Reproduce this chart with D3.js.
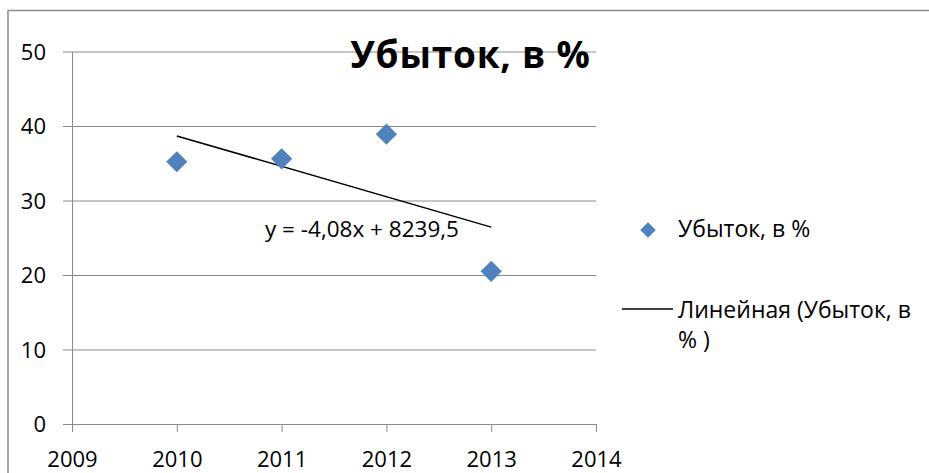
<!DOCTYPE html>
<html>
<head>
<meta charset="utf-8">
<script src="https://cdn.jsdelivr.net/npm/d3@7"></script>
<style>
  body { margin: 0; background: #fff; }
  svg { display: block; font-family: 'Open Sans', sans-serif; }
  .eje text { font-size: 22px; fill: #000; }
</style>
</head>
<body>
<div id="graf"></div>
<script>
// datos del grafico
const anios = [2010, 2011, 2012, 2013]
const perdidas = [35.2, 35.6, 38.9, 20.5]
const ticksY = [0, 10, 20, 30, 40, 50]
const ticksX = [2009, 2010, 2011, 2012, 2013, 2014]
const titulo = 'Убыток, в %'
const serieNombre = 'Убыток, в %'
const tendenciaNombre = ['Линейная (Убыток, в', '% )']

const ancho = 929, alto = 473
const margins = { top: 51.5, left: 72, right: 333, bottom: 49 }

const svg = d3.select('#graf').append('svg')
  .attr('width', ancho)
  .attr('height', alto)

// borde exterior del grafico
svg.append('rect')
  .attr('x', 8).attr('y', 10.5)
  .attr('width', 1000).attr('height', 1000)
  .attr('fill', 'none')
  .attr('stroke', '#8c8c8c')
  .attr('stroke-width', 1.5)

// escalas
const x = d3.scaleLinear()
  .domain(d3.extent(ticksX))
  .range([margins.left, ancho - margins.right])
const y = d3.scaleLinear()
  .domain(d3.extent(ticksY))
  .range([alto - margins.bottom, margins.top])

const gris = '#8a8a8a'

// lineas de la grilla (con marca hacia la izquierda)
svg.append('g')
  .attr('transform', `translate(${x.range()[1]}, 0)`)
  .call(d3.axisLeft(y).tickValues(ticksY).tickSize(x.range()[1] - x.range()[0] + 9).tickFormat(''))
  .call(g => g.select('.domain').remove())
  .call(g => g.selectAll('line').attr('stroke', gris))

// eje Y
svg.append('g')
  .attr('class', 'eje')
  .attr('transform', `translate(${x.range()[0]}, 0)`)
  .call(d3.axisLeft(y).tickValues(ticksY).tickSize(0).tickSizeOuter(0).tickPadding(26))
  .call(g => g.select('.domain').attr('stroke', gris))
  .call(g => g.selectAll('text').attr('font-family', 'Open Sans').attr('dy', '0.36em'))

// eje X
svg.append('g')
  .attr('class', 'eje')
  .attr('transform', `translate(0, ${y(0)})`)
  .call(d3.axisBottom(x).tickValues(ticksX).tickSize(8).tickSizeOuter(0).tickPadding(19).tickFormat(d3.format('d')))
  .call(g => g.select('.domain').attr('stroke', gris))
  .call(g => g.selectAll('line').attr('stroke', gris))
  .call(g => g.selectAll('text').attr('font-family', 'Open Sans'))

// regresion lineal (minimos cuadrados)
const mx = d3.mean(anios), my = d3.mean(perdidas)
const pendiente = d3.sum(anios, (a, i) => (a - mx) * (perdidas[i] - my)) / d3.sum(anios, a => (a - mx) ** 2)
const intercepto = my - pendiente * mx

const linea = d3.line()
  .x(d => x(d))
  .y(d => y(pendiente * d + intercepto))

svg.append('path')
  .datum(d3.extent(anios))
  .attr('d', linea)
  .attr('fill', 'none')
  .attr('stroke', '#000')
  .attr('stroke-width', 1.5)

// puntos (rombos)
const rombo = d3.symbol().type(d3.symbolSquare).size(225)
svg.selectAll('path.punto')
  .data(anios)
  .enter()
  .append('path')
    .attr('class', 'punto')
    .attr('d', rombo)
    .attr('transform', (d, i) => `translate(${x(d)}, ${y(perdidas[i])}) rotate(45)`)
    .attr('fill', '#4f81bd')

// ecuacion de la tendencia (formato con coma decimal y guion)
const coma = v => d3.format('.2f')(v).replace(/0$/, '').replace('.', ',').replace('−', '-')
const fmt1 = v => d3.format('.1f')(v).replace('.', ',').replace('−', '-')
svg.append('text')
  .attr('x', 265).attr('y', 237)
  .attr('font-size', 22.5)
  .text(`y = ${coma(pendiente)}x + ${fmt1(intercepto)}`)

// titulo
svg.append('text')
  .attr('x', 470.5).attr('y', 68)
  .attr('text-anchor', 'middle')
  .attr('font-size', 37)
  .attr('font-weight', 'bold')
  .attr('letter-spacing', 0.8)
  .text(titulo)

// leyenda
svg.append('path')
  .attr('d', d3.symbol().type(d3.symbolSquare).size(120))
  .attr('transform', 'translate(648, 230) rotate(45)')
  .attr('fill', '#4f81bd')
svg.append('text')
  .attr('x', 678).attr('y', 237)
  .attr('font-size', 23)
  .text(serieNombre)

svg.append('line')
  .attr('x1', 622).attr('x2', 673)
  .attr('y1', 309).attr('y2', 309)
  .attr('stroke', '#000')
  .attr('stroke-width', 1.5)
tendenciaNombre.forEach((t, i) => {
  svg.append('text')
    .attr('x', 678).attr('y', 318 + i * 30)
    .attr('font-size', 23)
    .text(t)
})
</script>
</body>
</html>
